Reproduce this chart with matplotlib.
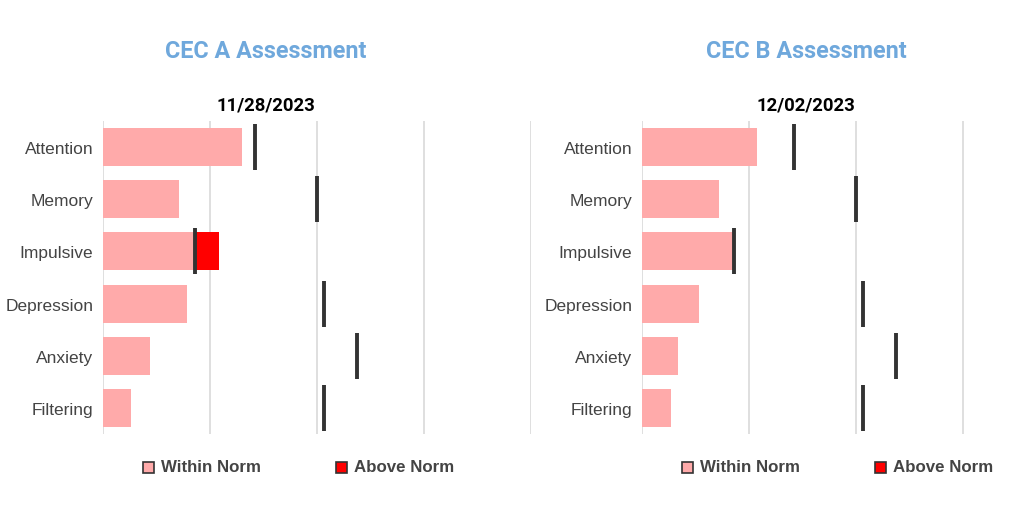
import numpy as np
import matplotlib.pyplot as plt
from matplotlib.patches import Rectangle

# --- Data ---
categories = ['Attention', 'Memory', 'Impulsive', 'Depression', 'Anxiety', 'Filtering']
norm_limits = [14.2, 20.0, 8.6, 20.7, 23.7, 20.7]
scores_a = [13.0, 7.1, 10.8, 7.85, 4.4, 2.6]
scores_b = [10.75, 7.2, 8.5, 5.3, 3.4, 2.7]
titles = ['CEC A Assessment', 'CEC B Assessment']
dates = ['11/28/2023', '12/02/2023']

PINK = '#ffaaaa'
RED = '#ff0000'
TITLE_BLUE = '#6fa8dc'
TEXT_GRAY = '#444444'

fig = plt.figure(figsize=(10.24, 5.06), dpi=100)
fig.patch.set_facecolor('white')

# axes left edges (figure fraction); right panel runs off the canvas
panel_x0 = [103 / 1024, 642 / 1024]
panel_w = 428 / 1024
panel_y0 = 1 - 435 / 506
panel_h = 313 / 506
title_cx = [266 / 1024, 806 / 1024]
legend_x = [148, 687]


def draw_panel(idx, scores):
    ax = fig.add_axes([panel_x0[idx], panel_y0, panel_w, panel_h])
    y = np.arange(len(categories))
    scores = np.array(scores)
    norms = np.array(norm_limits)
    within = np.minimum(scores, norms)
    above = np.clip(scores - norms, 0, None)

    ax.barh(y, within, height=0.73, color=PINK, zorder=2)
    ax.barh(y, above, left=within, height=0.73, color=RED, zorder=2)
    ax.vlines(norms, y - 0.44, y + 0.44, colors='#333333', linewidth=2.8, zorder=3)

    ax.set_xlim(0, 40)
    ax.set_ylim(len(categories) - 0.5, -0.5)
    ax.set_xticks([0, 10, 20, 30, 40])
    ax.set_xticklabels([])
    ax.tick_params(axis='x', length=0)
    ax.tick_params(axis='y', length=0, pad=7)
    ax.set_yticks(y)
    ax.set_yticklabels(categories, fontsize=12.5, color=TEXT_GRAY, family='Liberation Sans')
    ax.grid(axis='x', color='#d9d9d9', linewidth=1.2, zorder=0)
    for s in ax.spines.values():
        s.set_visible(False)

    fig.text(title_cx[idx], 1 - 51 / 506, titles[idx], ha='center', va='center',
             fontsize=16.8, fontweight='bold', color=TITLE_BLUE, family='Roboto')
    fig.text(title_cx[idx], 1 - 105 / 506, dates[idx], ha='center', va='center',
             fontsize=13.3, fontweight='bold', color='black', family='Roboto')

    # legend
    ly = 1 - 468 / 506
    sq = 11
    for k, (lab, col) in enumerate([('Within Norm', PINK), ('Above Norm', RED)]):
        lx = legend_x[idx] + k * 193
        fig.patches.append(Rectangle(((lx - sq / 2) / 1024, ly - (sq / 2) / 506),
                                     sq / 1024, sq / 506, transform=fig.transFigure,
                                     facecolor=col, edgecolor='#333333', linewidth=1.2))
        fig.text((lx + 13) / 1024, ly, lab, ha='left', va='center', fontsize=12.2,
                 fontweight='bold', color=TEXT_GRAY, family='Liberation Sans')


draw_panel(0, scores_a)
draw_panel(1, scores_b)

fig.savefig('out.png', dpi=100, facecolor='white')
